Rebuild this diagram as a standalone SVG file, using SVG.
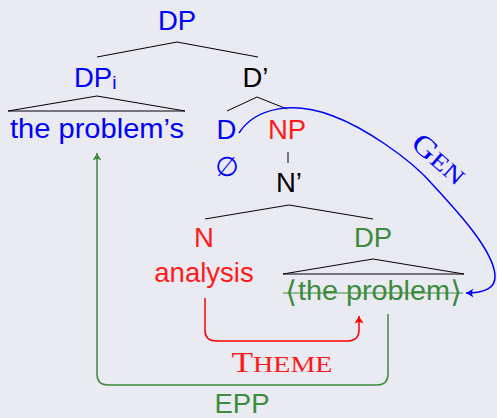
<svg xmlns="http://www.w3.org/2000/svg" width="497" height="418" viewBox="0 0 497 418">
<defs>
<style>
.s{font-family:"Liberation Sans","DejaVu Sans",sans-serif;font-size:27.5px;text-anchor:middle}
.r{font-family:"Liberation Serif","DejaVu Serif",serif;text-anchor:middle}
.b{fill:#0000ff}.red{fill:#ff1a1a}.g{fill:#3d8b3d}.k{fill:#000}
.t{fill:none;stroke:#000;stroke-width:1}
.arr{fill:none;stroke-width:1.5}
</style>
<marker id="hb" viewBox="-8 -5 9 10" refX="0" refY="0" markerWidth="9" markerHeight="10" markerUnits="userSpaceOnUse" orient="auto"><path d="M0,0 C-2,-1 -5,-3 -7.5,-4.5 C-5.5,-1.5 -5.5,1.5 -7.5,4.5 C-5,3 -2,1 0,0 Z" fill="#0000ff"/></marker>
<marker id="hr" viewBox="-8 -5 9 10" refX="0" refY="0" markerWidth="9" markerHeight="10" markerUnits="userSpaceOnUse" orient="auto"><path d="M0,0 C-2,-1 -5,-3 -7.5,-4.5 C-5.5,-1.5 -5.5,1.5 -7.5,4.5 C-5,3 -2,1 0,0 Z" fill="#ff0000"/></marker>
<marker id="hg" viewBox="-8 -5 9 10" refX="0" refY="0" markerWidth="9" markerHeight="10" markerUnits="userSpaceOnUse" orient="auto"><path d="M0,0 C-2,-1 -5,-3 -7.5,-4.5 C-5.5,-1.5 -5.5,1.5 -7.5,4.5 C-5,3 -2,1 0,0 Z" fill="#3d8b3d"/></marker>
</defs>
<rect width="497" height="418" fill="#eaeaf2"/>

<g id="tree-lines">
<polyline class="t" points="97,57 177,42 258,57"/>
<polygon class="t" points="8,111 97,96 185,111"/>
<polyline class="t" points="227,111 257,97 287,109"/>
<line class="t" x1="288" y1="152" x2="288" y2="163"/>
<polyline class="t" points="205,219 289,205 373,219"/>
<polygon class="t" points="283,274 373,259 464,274"/>
</g>

<g id="DP-root"><text class="s b" x="177" y="30">DP</text></g>
<g id="DPi"><text class="s b" x="74" y="87" style="text-anchor:start">DP<tspan font-size="19" dy="2">i</tspan></text></g>
<g id="Dbar"><text class="s k" x="255.5" y="87">D’</text></g>
<g id="the-problems"><text class="s b" x="97" y="138" textLength="174" lengthAdjust="spacingAndGlyphs">the problem’s</text></g>
<g id="D"><text class="s b" x="226.5" y="139">D</text></g>
<g id="NP"><text class="s red" x="287" y="139">NP</text></g>
<g id="empty"><text class="b" x="227" y="176" style="font-family:'DejaVu Sans',sans-serif;font-size:27px;text-anchor:middle">∅</text></g>
<g id="Nbar"><text class="s k" x="289" y="192">N’</text></g>
<g id="N"><text class="s red" x="204" y="247">N</text></g>
<g id="DP-obj"><text class="s g" x="373" y="247">DP</text></g>
<g id="analysis"><text class="s red" x="204" y="282">analysis</text></g>
<g id="the-problem">
<text class="g" x="291" y="302" style="font-family:'DejaVu Sans',sans-serif;font-size:30px;text-anchor:middle">⟨</text>
<text class="s g" x="374" y="300" textLength="152" lengthAdjust="spacingAndGlyphs">the problem</text>
<text class="g" x="456" y="302" style="font-family:'DejaVu Sans',sans-serif;font-size:30px;text-anchor:middle">⟩</text>
<line x1="283" y1="293" x2="463" y2="293" stroke="#3d8b3d" stroke-width="1.2"/>
</g>

<g id="connectors">
<path class="arr" stroke="#0000ff" marker-end="url(#hb)" d="M239,133 C256,107 293,101 333,116 C363,127 410,158 433,185 C458,212 493,250 495,275 C496,288 485,293 466,293"/>
<path class="arr" stroke="#ff0000" marker-end="url(#hr)" d="M205,298 V330 Q205,341 216,341 H347 Q359,341 359,330 V316"/>
<path class="arr" stroke="#3d8b3d" marker-end="url(#hg)" d="M388,314 V374 Q388,385 377,385 H108 Q97,385 97,374 V153"/>
</g>

<g id="labels">
<text class="r b" transform="translate(433,166) rotate(41)" textLength="62" lengthAdjust="spacingAndGlyphs"><tspan font-size="29">G</tspan><tspan font-size="23">EN</tspan></text>
<text class="r red" x="282" y="372" textLength="101" lengthAdjust="spacingAndGlyphs"><tspan font-size="29">T</tspan><tspan font-size="23">HEME</tspan></text>
<text class="s g" x="242" y="413">EPP</text>
</g>
</svg>
